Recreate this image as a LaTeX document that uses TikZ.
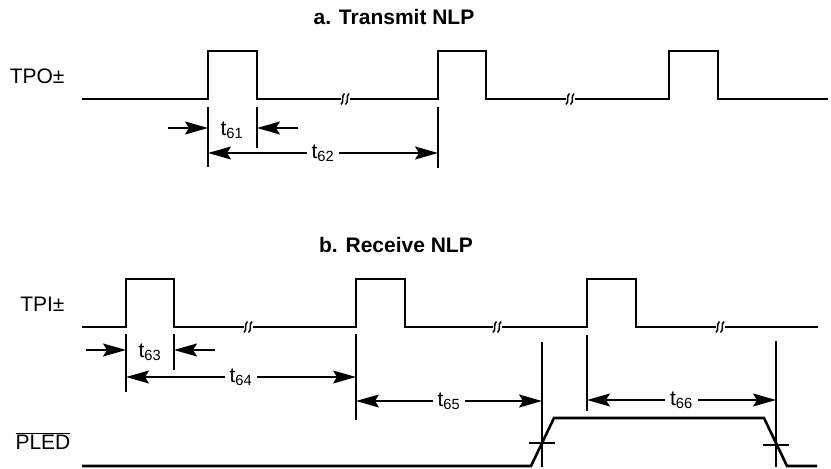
\documentclass[tikz,border=0pt]{standalone}
\usepackage{fontspec}
\setmainfont{Liberation Sans}
\usetikzlibrary{arrows.meta}

\tikzset{
	sig/.style={line width=2.6pt},
	ext/.style={line width=1.1pt},
	tip/.tip={Stealth[length=23pt,width=13pt,inset=4pt]},
	dim/.style={line width=1.4pt, -tip},
	dimb/.style={line width=1.4pt, tip-tip},
	lbl/.style={fill=white, inner sep=5pt},
	ttl/.style={font=\fontsize{21}{25}\selectfont\bfseries},
	brk/.pic={
		\fill[white] (-4.5,-7) rectangle (4.5,7);
		\foreach \d in {-2.3,2.3}
			\draw[line width=1.5pt] (\d+1.8,-5.5) .. controls (\d-2.2,-2.5) and (\d+2.2,2.5) .. (\d-1.8,5.5);
	}
}

\begin{document}
\begin{tikzpicture}[x=1pt,y=-1pt,font=\fontsize{21}{25}\selectfont]
	\useasboundingbox (0,0) rectangle (831,469);

	% a. Transmit NLP
	\node[ttl] (ta) at (394,17) {a. Transmit NLP};
	\node[anchor=east] (tpo) at (68,76) {TPO±};

	\coordinate (o1) at (208,99);
	\coordinate (o2) at (257,99);
	\coordinate (o3) at (438,99);
	\coordinate (o4) at (486,99);
	\coordinate (o5) at (669,99);
	\coordinate (o6) at (718,99);

	\draw[sig] (82,99) -- (o1) -- ++(0,-48) -| (o2) -- (o3) -- ++(0,-48) -| (o4)
		-- (o5) -- ++(0,-48) -| (o6) -- (828,99);
	\pic at (345,99) {brk};
	\pic at (570,99) {brk};

	\draw[ext] (o1) ++(0,8) -- ++(0,60);
	\draw[ext] (o2) ++(0,8) -- ++(0,41);
	\draw[ext] (o3) ++(0,8) -- ++(0,61);

	\draw[dim] (o1) ++(-40,29) -- ++(40,0);
	\draw[dim] (o2) ++(41,29) -- ++(-41,0);
	\node (t61) at (232,130) {t\textsubscript{61}};
	\draw[dimb] (o1) ++(0,54) coordinate (a) -- (a -| o3) node[midway,lbl] (t62) {t\textsubscript{62}};

	% b. Receive NLP
	\node[ttl] (tb) at (396,245) {b. Receive NLP};
	\node[anchor=east] (tpi) at (68,304) {TPI±};

	\coordinate (i1) at (126,327);
	\coordinate (i2) at (174,327);
	\coordinate (i3) at (356,327);
	\coordinate (i4) at (405,327);
	\coordinate (i5) at (587,327);
	\coordinate (i6) at (636,327);

	\draw[sig] (82,327) -- (i1) -- ++(0,-48) -| (i2) -- (i3) -- ++(0,-48) -| (i4)
		-- (i5) -- ++(0,-48) -| (i6) -- (818,327);
	\pic at (248,327) {brk};
	\pic at (497,327) {brk};
	\pic at (720,327) {brk};

	\draw[ext] (i1) ++(0,7) -- ++(0,58);
	\draw[ext] (i2) ++(0,7) -- ++(0,36);
	\draw[ext] (i3) ++(0,7) -- ++(0,86);
	\draw[ext] (i5) ++(0,8) -- ++(0,76);

	% PLED
	\node[anchor=west] (pled) at (12,441) {$\overline{\hbox{PLED}}$};
	\coordinate (p1) at (531,466);
	\coordinate (p2) at (554,418);
	\coordinate (p3) at (764,418);
	\coordinate (p4) at (787,466);
	\coordinate (x1) at (542,443);
	\coordinate (x2) at (776,443);

	\draw[sig] (82,466) -- (p1) -- (p2) -- (p3) -- (p4) -- (817,466);
	\draw[ext] (x1) ++(-13,0) -- ++(26,0);
	\draw[ext] (x2) ++(-13,2) -- ++(26,0);
	\draw[ext] (x1) ++(0,-101) -- ++(0,125);
	\draw[ext] (x2) ++(0,-102) -- ++(0,126);

	\draw[dim] (i1) ++(-40,23) -- ++(40,0);
	\draw[dim] (i2) ++(41,23) -- ++(-41,0);
	\node (t63) at (150,352) {t\textsubscript{63}};
	\draw[dimb] (i1) ++(0,50) coordinate (b) -- (b -| i3) node[midway,lbl] (t64) {t\textsubscript{64}};
	\draw[dimb] (i3) ++(0,74) coordinate (c) -- (c -| x1) node[midway,lbl] (t65) {t\textsubscript{65}};
	\draw[dimb] (i5) ++(0,73) coordinate (d) -- (d -| x2) node[midway,lbl] (t66) {t\textsubscript{66}};
\end{tikzpicture}
\end{document}
